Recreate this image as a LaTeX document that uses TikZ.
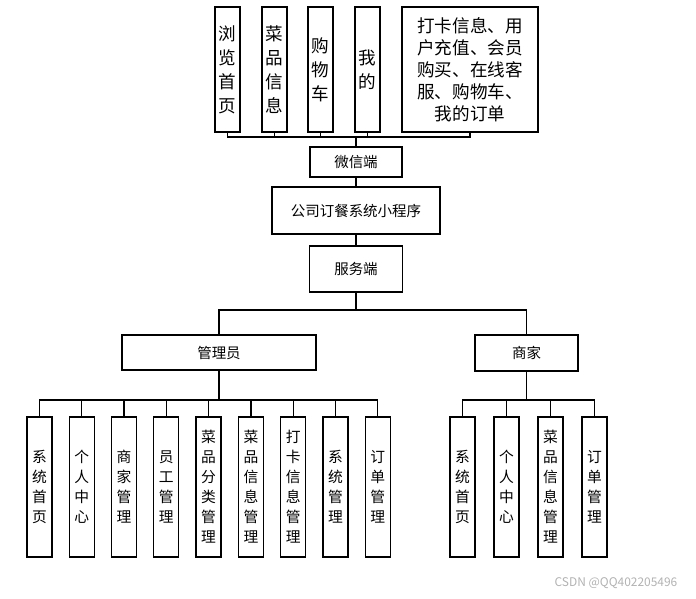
\documentclass[tikz,border=0pt]{standalone}
\usepackage{fontspec}
\setmainfont{Noto Sans CJK SC}
\usepackage{tikz}
\usetikzlibrary{positioning}
\tikzstyle{topcol}  = [rectangle, draw=black, line width=0.9pt, minimum width=0.625cm, minimum height=3.125cm,
                       inner sep=0pt, align=center, font=\fontsize{12.5}{17}\selectfont]
\tikzstyle{topwide} = [rectangle, draw=black, line width=0.9pt, minimum width=3.4cm, minimum height=3.125cm,
                       inner sep=0pt, align=center, font=\fontsize{12.5}{15.6}\selectfont]
\tikzstyle{midbox}  = [rectangle, draw=black, line width=0.9pt, inner sep=0pt, text centered,
                       font=\fontsize{10.3}{12}\selectfont]
\tikzstyle{leaf}    = [rectangle, draw=black, line width=0.9pt, minimum width=0.625cm, minimum height=3.5cm,
                       inner sep=0pt, align=center, font=\fontsize{10.5}{14.2}\selectfont]
\tikzstyle{line}    = [line width=0.9pt]

\begin{document}
\begin{tikzpicture}[x=0.025cm, y=-0.025cm]
    \useasboundingbox (0,0) rectangle (696,598);

    \node (t1) [topcol] at (227.5,69.5) {浏\\览\\首\\页};
    \node (t2) [topcol] at (274.5,69.5) {菜\\品\\信\\息};
    \node (t3) [topcol] at (320.5,69.5) {购\\物\\车};
    \node (t4) [topcol] at (367.5,69.5) {我\\的};
    \node (t5) [topwide] at (470,69.5) {打卡信息、用\\户充值、会员\\购买、在线客\\服、购物车、\\我的订单};

    \node (wx)   [midbox, minimum width=2.3cm, minimum height=0.75cm] at (356,162) {微信端};
    \node (app)  [midbox, minimum width=4.2cm, minimum height=1.175cm] at (356,210.5) {公司订餐系统小程序};
    \node (srv)  [midbox, minimum width=2.325cm, minimum height=1.15cm] at (356,269) {服务端};
    \node (adm)  [midbox, minimum width=4.85cm, minimum height=0.875cm] at (219,352.5) {管理员};
    \node (shop) [midbox, minimum width=2.575cm, minimum height=0.9cm] at (526.5,353) {商家};

    \node (a1) [leaf] at (39.5,487) {系\\统\\首\\页};
    \node (a2) [leaf, right=0.4cm of a1] {个\\人\\中\\心};
    \node (a3) [leaf, right=0.4cm of a2] {商\\家\\管\\理};
    \node (a4) [leaf, right=0.4cm of a3] {员\\工\\管\\理};
    \node (a5) [leaf, right=0.4cm of a4] {菜\\品\\分\\类\\管\\理};
    \node (a6) [leaf, right=0.4cm of a5] {菜\\品\\信\\息\\管\\理};
    \node (a7) [leaf, right=0.4cm of a6] {打\\卡\\信\\息\\管\\理};
    \node (a8) [leaf, right=0.4cm of a7] {系\\统\\管\\理};
    \node (a9) [leaf, right=0.4cm of a8] {订\\单\\管\\理};

    \node (s1) [leaf] at (462.5,487) {系\\统\\首\\页};
    \node (s2) [leaf, right=0.443cm of s1] {个\\人\\中\\心};
    \node (s3) [leaf, right=0.443cm of s2] {菜\\品\\信\\息\\管\\理};
    \node (s4) [leaf, right=0.443cm of s3] {订\\单\\管\\理};

    \node (mark) [text=gray!60, font=\fontsize{8.5}{10}\selectfont] at (616,583) {CSDN @QQ402205496};

    \coordinate (topbus) at (356,137);
    \coordinate (srvbus) at (356,310);
    \coordinate (admbus) at (219,400);
    \coordinate (shopbus) at (526.5,400);

    \foreach \n in {t1,t2,t3,t4,t5}
        \draw[line] (\n.south) |- (topbus);
    \draw[line] (topbus) -- (wx);
    \draw[line] (wx) -- (app);
    \draw[line] (app) -- (srv);
    \draw[line] (srv) -- (srvbus);
    \draw[line] (srvbus) -| (adm);
    \draw[line] (srvbus) -| (shop);
    \draw[line] (adm) -- (admbus);
    \draw[line] (shop) -- (shopbus);
    \foreach \n in {a1,a2,a3,a4,a5,a6,a7,a8,a9}
        \draw[line] (\n.north) |- (admbus);
    \foreach \n in {s1,s2,s3,s4}
        \draw[line] (\n.north) |- (shopbus);
\end{tikzpicture}
\end{document}
